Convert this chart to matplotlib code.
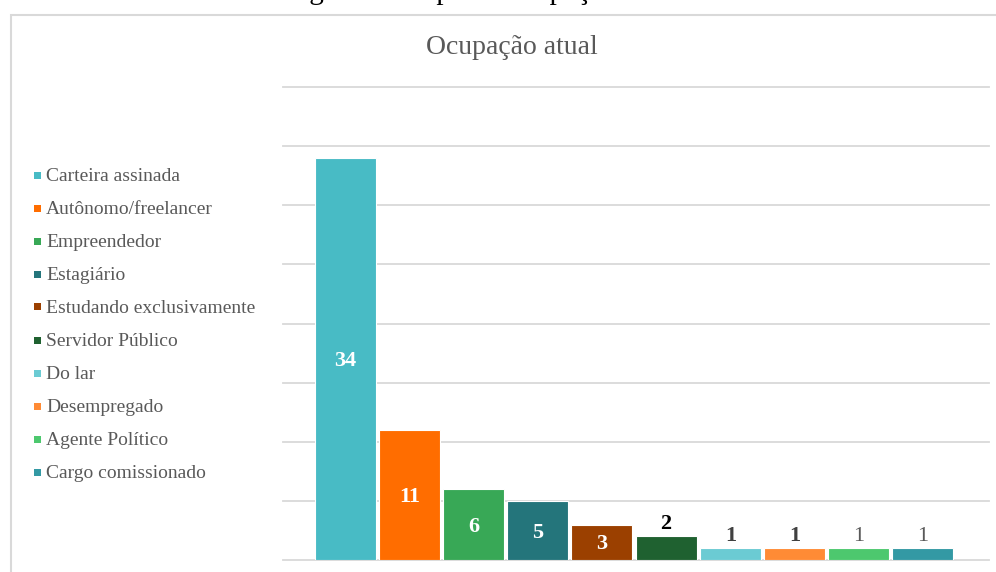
import numpy as np
import matplotlib.pyplot as plt
from matplotlib.patches import Rectangle

plt.rcParams['font.family'] = ['Liberation Serif', 'DejaVu Serif']

# data
categories = ['Carteira assinada', 'Autônomo/freelancer', 'Empreendedor', 'Estagiário',
              'Estudando exclusivamente', 'Servidor Público', 'Do lar', 'Desempregado',
              'Agente Político', 'Cargo comissionado']
values = [34, 11, 6, 5, 3, 2, 1, 1, 1, 1]
colors = ['#48BBC5', '#FF6D00', '#38A856', '#24757B', '#9B4000', '#1F6130',
          '#6BCBD3', '#FF8B35', '#4DC86E', '#3399A4']

W, H = 996, 572
fig = plt.figure(figsize=(W / 100, H / 100), dpi=100)

# chart border (cut at right/bottom)
fig.patches.append(Rectangle((11 / W, -0.05), 1.05, 1 - 15 / H + 0.05, transform=fig.transFigure,
                             fill=False, edgecolor='#D9D9D9', linewidth=1.5))

# caption partially cut at the top
fig.text(285 / W, 1 + 1.0 / H, 'Figura 7 – Tipo de ocupação atual', fontsize=21,
         ha='left', va='baseline', color='black')

ax = fig.add_axes([283 / W, 12 / H, (989 - 283) / W, (560 - 87) / H])
x = np.arange(len(values))
ax.bar(x, values, width=0.95, color=colors, edgecolor='white', linewidth=0.8, zorder=3)
ax.set_xlim(-0.97, 10.03)
ax.set_ylim(0, 40)
ax.set_yticks(np.arange(0, 41, 5))
ax.grid(axis='y', color='#D9D9D9', linewidth=1.3, zorder=0)
for gl in ax.get_ygridlines():
    gl.set_clip_on(False)
ax.tick_params(left=False, bottom=False, labelleft=False, labelbottom=False)
for s in ax.spines.values():
    s.set_visible(False)

# value labels
for i, v in enumerate(values):
    if v >= 3:
        ax.annotate(str(v), (i, v / 2), xytext=(0, -1.5), textcoords='offset points',
                    ha='center', va='center', color='white',
                    fontsize=16, fontweight='bold', zorder=4)
    else:
        col = 'black' if v == 2 else ('#404040' if i < 8 else '#595959')
        fw = 'bold' if i < 8 else 'normal'
        ax.annotate(str(v), (i, v), xytext=(0, 1.5), textcoords='offset points',
                    ha='center', va='bottom', color=col, fontsize=16, fontweight=fw, zorder=4)

fig.text(512 / W, 1 - 47 / H, 'Ocupação atual', ha='center', va='center',
         fontsize=20, color='#595959')

# legend
for k, (lab, c) in enumerate(zip(categories, colors)):
    yy = 1 - (175 + 33 * k) / H
    fig.patches.append(Rectangle((34 / W, yy - 3.5 / H), 7 / W, 7 / H, transform=fig.transFigure,
                                 facecolor=c, edgecolor='none'))
    fig.text(46 / W, yy - 1.5 / H, lab, ha='left', va='center', fontsize=14, color='#595959')

fig.savefig('out.png', dpi=100)
